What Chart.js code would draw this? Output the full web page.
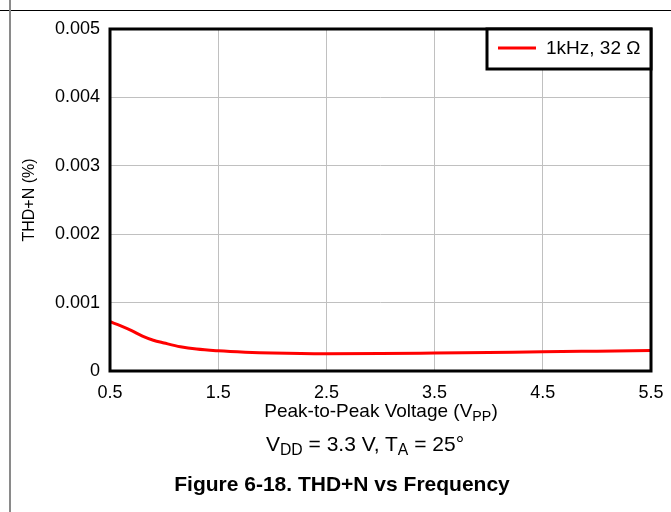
<!DOCTYPE html>
<html>
<head>
<meta charset="utf-8">
<script src="https://cdn.jsdelivr.net/npm/chart.js@4.4.0/dist/chart.umd.min.js"></script>
<style>
  body { margin: 0; background: #fff; font-family: "Liberation Sans", Arial, sans-serif; }
  #wrap { position: relative; width: 671px; height: 512px; overflow: hidden; }
  #c { position: absolute; left: 0; top: 0; }
  .topline { position: absolute; left: 0; top: 10px; width: 671px; height: 1px; background: #000; }
  .leftline { position: absolute; left: 9px; top: 0; width: 2px; height: 512px; background: #8a8a8a; }
  .txt { position: absolute; white-space: nowrap; color: #000; transform: translateX(-50%); }
  sub { font-size: 0.75em; vertical-align: -0.25em; line-height: 0; }
  #xtitle { left: 381px; top: 400px; font-size: 19px; }
  #cond { left: 365px; top: 432px; font-size: 21px; }
  #fig { left: 342px; top: 472px; font-size: 21px; font-weight: bold; }
</style>
</head>
<body>
<div id="wrap">
  <canvas id="c" width="671" height="512"></canvas>
  <div class="topline"></div>
  <div class="leftline"></div>
  <div class="txt" id="xtitle">Peak-to-Peak Voltage (V<sub>PP</sub>)</div>
  <div class="txt" id="cond">V<sub>DD</sub> = 3.3 V, T<sub>A</sub> = 25°</div>
  <div class="txt" id="fig">Figure 6-18. THD+N vs Frequency</div>
</div>
<script>
const voltage = [0.5, 0.6, 0.7, 0.8, 0.9, 1.0, 1.15, 1.3, 1.5, 1.75, 2.0, 2.5, 3.0, 3.5, 4.0, 4.5, 5.0, 5.5];
const thdn = [0.00072, 0.00066, 0.00059, 0.00051, 0.00045, 0.00041, 0.000355, 0.00032, 0.000295, 0.000275, 0.000262, 0.000252, 0.000255, 0.000263, 0.000272, 0.00028, 0.00029, 0.0003];
const xTicks = [0.5, 1.5, 2.5, 3.5, 4.5, 5.5];
const yTicks = [0, 0.001, 0.002, 0.003, 0.004, 0.005];
const seriesLabel = "1kHz, 32 Ω";

const FONT = "'Liberation Sans', Arial, sans-serif";

const frameAndLegend = {
  id: "frameAndLegend",
  afterDatasetsDraw(chart) {
    const { ctx, chartArea: a } = chart;
    ctx.save();
    ctx.strokeStyle = "#000";
    ctx.lineWidth = 3;
    ctx.strokeRect(a.left, a.top, a.right - a.left, a.bottom - a.top);
    // legend box, top-right corner of the plot
    const bx = 487, by = a.top, bw = a.right - bx, bh = 40;
    ctx.fillStyle = "#fff";
    ctx.fillRect(bx, by, bw, bh);
    ctx.strokeRect(bx, by, bw, bh);
    const ds = chart.data.datasets[0];
    ctx.strokeStyle = ds.borderColor;
    ctx.lineWidth = 3;
    ctx.beginPath();
    ctx.moveTo(498, by + 19);
    ctx.lineTo(536, by + 19);
    ctx.stroke();
    ctx.fillStyle = "#000";
    ctx.font = "19px " + FONT;
    ctx.textBaseline = "middle";
    ctx.fillText(ds.label, 546, by + 20);
    ctx.restore();
  }
};

new Chart(document.getElementById("c"), {
  type: "line",
  data: {
    datasets: [{
      label: seriesLabel,
      data: voltage.map((v, i) => ({ x: v, y: thdn[i] })),
      borderColor: "#ff0000",
      borderWidth: 3,
      pointRadius: 0,
      tension: 0.4,
      cubicInterpolationMode: "monotone",
      fill: false
    }]
  },
  options: {
    responsive: false,
    animation: false,
    layout: { padding: { left: 20, top: 29, right: 20, bottom: 0 } },
    plugins: { legend: { display: false }, tooltip: { enabled: false } },
    scales: {
      x: {
        type: "linear",
        min: 0.5,
        max: 5.5,
        afterBuildTicks: s => { s.ticks = xTicks.map(v => ({ value: v })); },
        afterFit: s => { s.height = 141; s.paddingLeft = 0; s.paddingRight = 0; },
        grid: { color: "#c0c0c0", lineWidth: 1, drawTicks: false },
        border: { display: false },
        ticks: {
          padding: 11,
          color: "#000",
          font: { family: FONT, size: 18 },
          maxRotation: 0,
          callback: v => v.toFixed(1)
        }
      },
      y: {
        min: 0,
        max: 0.005,
        afterBuildTicks: s => { s.ticks = yTicks.map(v => ({ value: v })); },
        afterFit: s => { s.width = 90; s.paddingTop = 0; s.paddingBottom = 0; },
        grid: { color: "#c0c0c0", lineWidth: 1, drawTicks: false },
        border: { display: false },
        ticks: {
          padding: 10,
          color: "#000",
          font: { family: FONT, size: 18 },
          callback: v => v === 0 ? "0" : v.toFixed(3)
        },
        title: {
          display: true,
          text: "THD+N (%)",
          color: "#000",
          font: { family: FONT, size: 16 },
          padding: { top: 0, bottom: 0 }
        }
      }
    }
  },
  plugins: [frameAndLegend]
});
</script>
</body>
</html>
